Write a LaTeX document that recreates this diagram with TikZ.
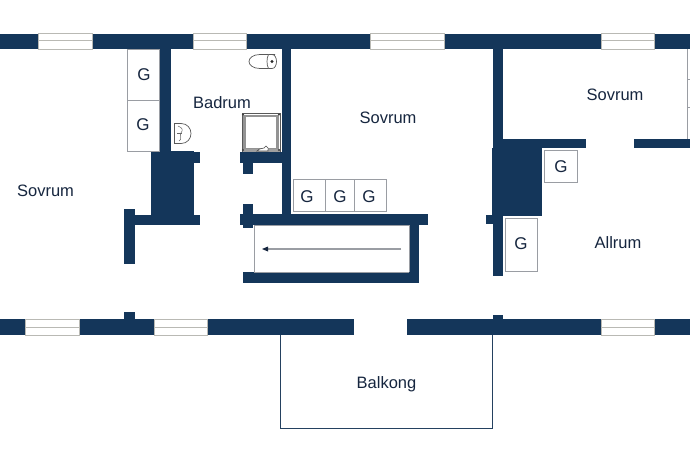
\documentclass[tikz,border=0pt]{standalone}
\usepackage{fontspec}
\setmainfont{Liberation Sans}
\definecolor{wallc}{HTML}{14365A}
\definecolor{txtc}{HTML}{16263F}
\definecolor{edgec}{HTML}{9A9DA3}
\definecolor{winc}{HTML}{B9B9B4}
\tikzset{
  wallr/.style={fill=wallc,draw=none},
  winr/.style={fill=white,draw=winc,line width=0.7pt},
  gbox/.style={draw=edgec,fill=white,line width=0.9pt},
  thinl/.style={draw=wallc!85!gray,line width=0.9pt},
  room/.style={font=\fontsize{16.5}{18}\selectfont,text=txtc,inner sep=0pt},
  glabel/.style={font=\fontsize{17}{18}\selectfont,text=txtc,inner sep=0pt},
  fix/.style={draw=black!65,line width=0.7pt,fill=white}
}
\newcommand{\wall}[4]{\fill[wallr] (#1,#2) rectangle (#3,#4);}
\newcommand{\winb}[3]{\draw[winr] (#1,#3) rectangle (#2,#3+15.5);\draw[winc,line width=1pt] (#1,#3+7.5) -- (#2,#3+7.5);}
\begin{document}
\begin{tikzpicture}[x=1pt,y=-1pt]
\useasboundingbox[fill=white] (0,0) rectangle (690,460);
% balcony
\draw[thinl] (280,335) -- (280,428) -- (492,428) -- (492,335);
% top wall
\wall{0}{34}{690}{49}
\winb{38}{92}{33.5}\winb{193}{246}{33.5}\winb{370}{444}{33.5}\winb{601}{654}{33.5}
% bottom wall
\wall{0}{319}{354}{335}
\wall{407}{319}{690}{335}
\wall{124}{312}{135}{320}
\wall{493}{315}{503}{320}
\winb{25}{79}{319.5}\winb{154}{207}{319.5}\winb{601}{654}{319.5}
% bathroom and left core
\wall{159}{49}{171}{152}
\wall{282}{49}{291}{226}
\wall{151}{151}{194}{225}
\wall{194}{152}{200}{163}
\wall{124}{215}{200}{225}
\wall{124}{209}{135}{264}
\wall{240}{152}{282}{163}
\wall{243}{163}{253}{174}
\wall{243}{204}{253}{228}
% shaft
\wall{240}{214}{428}{225}
\wall{409}{225}{419}{283}
\wall{243}{272}{419}{283}
\draw[edgec,line width=1pt] (254,225) -- (254,272) -- (409,272);
\draw[edgec,line width=1pt] (254,225) -- (409,225) -- (409,272);
\coordinate (shaftR) at (401,249);
\coordinate (shaftL) at (262,249);
\draw[edgec,line width=1.4pt] (shaftR) -- (266,249);
\fill[txtc] (shaftL) -- (268,246.5) -- (268,251.5) -- cycle;
% right part
\wall{493}{49}{503}{276}
\wall{493}{139}{586}{148}
\wall{634}{139}{690}{148}
\wall{492}{148}{542}{216}
\wall{486}{215}{493}{224}
% right closet lines
\draw[edgec,line width=0.7pt] (687,49) -- (687,139);
\draw[edgec,line width=0.7pt] (687,79) -- (690,79) (687,107) -- (690,107);
% G boxes
\draw[gbox] (127,49.5) rectangle (159,100);
\draw[gbox] (127,100) rectangle (159,151);
\draw[gbox] (293,179) rectangle (325,211);
\draw[gbox] (325,179) rectangle (354,211);
\draw[gbox] (354,179) rectangle (386,211);
\draw[gbox] (544,150) rectangle (577,182);
\draw[gbox] (505,218) rectangle (537,271);
\node[glabel] (g1) at (144,74.5) {G};
\node[glabel] (g2) at (143,124.5) {G};
\node[glabel] (g3) at (307,196.5) {G};
\node[glabel] (g4) at (340,196.5) {G};
\node[glabel] (g5) at (369,196.5) {G};
\node[glabel] (g6) at (561,166.5) {G};
\node[glabel] (g7) at (521,243.5) {G};
% toilet
\draw[fix] (275,54.5) -- (260,54.5) .. controls (253,54.5) and (249,58) .. (249,61.5) .. controls (249,65) and (253,68.5) .. (260,68.5) -- (272,68.5) .. controls (275,68.5) and (276.5,65) .. (276.5,61.5) .. controls (276.5,58) and (275,54.5) .. (272,54.5) -- cycle;
\draw[fix] (268.5,54.5) .. controls (266.5,58) and (266.5,65) .. (268.5,68.5);
\fill[black!85] (272,61.5) circle (1.6);
% sink
\draw[fix] (174.5,123.5) -- (181,123.5) .. controls (187,123.5) and (191,128) .. (191,133.5) .. controls (191,139) and (187,143.5) .. (181,143.5) -- (174.5,143.5) -- cycle;
\draw[black!60,line width=0.5pt] (178,126) .. controls (183,128) and (183,130) .. (181,133) .. controls (179,135) and (183,139) .. (179,141);
\draw[black!60,line width=0.5pt] (177,133) -- (182,133);
% shower
\draw[fill=white,draw=black!65,line width=0.7pt] (242,113.5) rectangle (280,151);
\draw[gray!85,line width=2.2pt] (244.5,116) rectangle (277.5,149);
\fill[gray!75] (243,149) rectangle (280,152);
\fill[black!75] (243,114.5) circle (1.1) (279,114.5) circle (1.1) (243,150) circle (1.1) (279,150) circle (1.1);
\draw[black!70,fill=white,line width=0.6pt] (257,151) .. controls (260,147) and (264,150) .. (266,146) .. controls (268,147) and (269,149) .. (268,151) -- cycle;
% rooms
\node[room] (r1) at (45.5,190.5) {Sovrum};
\node[room] (r2) at (222,102.5) {Badrum};
\node[room] (r3) at (388,117.5) {Sovrum};
\node[room] (r4) at (615,94.5) {Sovrum};
\node[room] (r5) at (618,242.5) {Allrum};
\node[room] (r6) at (386.5,384) {Balkong};
\end{tikzpicture}
\end{document}
